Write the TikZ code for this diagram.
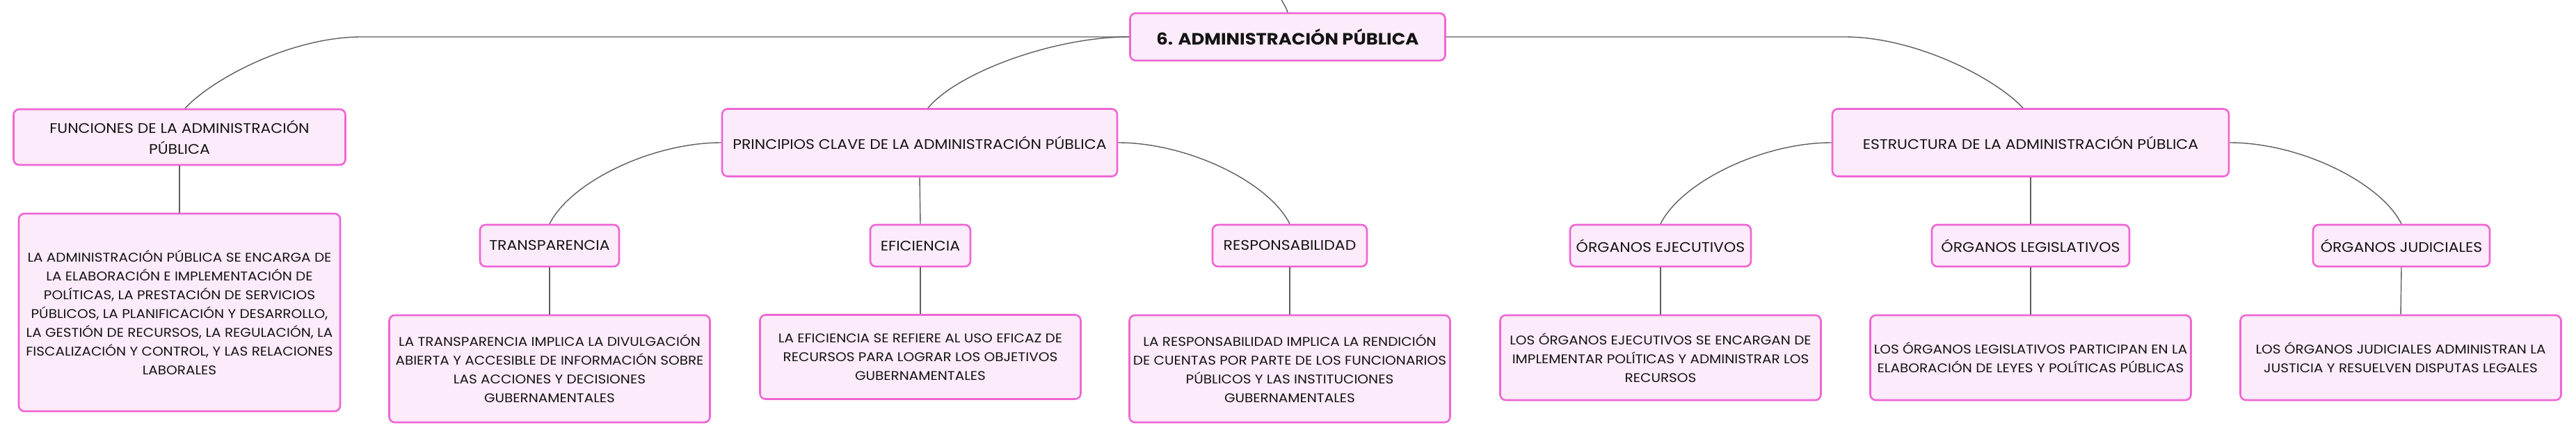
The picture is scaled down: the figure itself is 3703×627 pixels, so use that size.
\documentclass[tikz,border=0pt]{standalone}
\usepackage{fontspec}
\setmainfont{Poppins}[FakeStretch=1.1]

\definecolor{boxline}{HTML}{EE66D4}
\definecolor{boxfill}{HTML}{FCEBFA}
\definecolor{linkgray}{HTML}{5E5E5E}

\tikzset{
  box/.style={draw=boxline, fill=boxfill, line width=2.6pt, rounded corners=8pt,
    inner sep=0pt, align=center, text=black!92},
  mainbox/.style={box, font=\fontsize{23.5}{28}\selectfont\bfseries,
    minimum width=453pt, minimum height=68pt},
  topicbox/.style={box, font=\fontsize{20}{30}\selectfont, minimum height=97pt},
  subbox/.style={box, font=\fontsize{20}{24}\selectfont, minimum height=60pt},
  notebox/.style={box, font=\fontsize{18.2}{27}\selectfont, minimum width=461pt},
  link/.style={draw=linkgray, line width=1.4pt}
}

\begin{document}
\begin{tikzpicture}[x=1pt,y=-1pt]
\useasboundingbox (0,0) rectangle (3703,627);

\node[mainbox] (root) at (1851,53) {6. ADMINISTRACIÓN PÚBLICA};
\coordinate (up) at (1836,-12);
\coordinate (bendL) at (520,53);
\coordinate (bendR) at (2652,53);

% first level
\node[topicbox, minimum width=477pt, minimum height=80pt] (fun) at (258,197)
  {FUNCIONES DE LA ADMINISTRACIÓN\\PÚBLICA};
\node[topicbox, minimum width=568pt] (prin) at (1322,205)
  {PRINCIPIOS CLAVE DE LA ADMINISTRACIÓN PÚBLICA};
\node[topicbox, minimum width=570pt] (estr) at (2919,205)
  {ESTRUCTURA DE LA ADMINISTRACIÓN PÚBLICA};

% second level
\node[subbox, minimum width=200pt] (trans) at (790,353) {TRANSPARENCIA};
\node[subbox, minimum width=144pt] (efic) at (1323,353) {EFICIENCIA};
\node[subbox, minimum width=222pt] (resp) at (1854,353) {RESPONSABILIDAD};
\node[subbox, minimum width=260pt] (ejec) at (2387,353) {ÓRGANOS EJECUTIVOS};
\node[subbox, minimum width=284pt] (legi) at (2919,353) {ÓRGANOS LEGISLATIVOS};
\node[subbox, minimum width=254pt] (judi) at (3452,353) {ÓRGANOS JUDICIALES};

% notes
\node[notebox, minimum width=462pt, minimum height=284pt] (funN) at (258,449)
  {LA ADMINISTRACIÓN PÚBLICA SE ENCARGA DE\\LA ELABORACIÓN E IMPLEMENTACIÓN DE\\POLÍTICAS, LA PRESTACIÓN DE SERVICIOS\\PÚBLICOS, LA PLANIFICACIÓN Y DESARROLLO,\\LA GESTIÓN DE RECURSOS, LA REGULACIÓN, LA\\FISCALIZACIÓN Y CONTROL, Y LAS RELACIONES\\LABORALES};
\node[notebox, minimum height=154pt] (transN) at (790,530)
  {LA TRANSPARENCIA IMPLICA LA DIVULGACIÓN\\ABIERTA Y ACCESIBLE DE INFORMACIÓN SOBRE\\LAS ACCIONES Y DECISIONES\\GUBERNAMENTALES};
\node[notebox, minimum height=121pt] (eficN) at (1323,513)
  {LA EFICIENCIA SE REFIERE AL USO EFICAZ DE\\RECURSOS PARA LOGRAR LOS OBJETIVOS\\GUBERNAMENTALES};
\node[notebox, minimum height=154pt] (respN) at (1854,530)
  {LA RESPONSABILIDAD IMPLICA LA RENDICIÓN\\DE CUENTAS POR PARTE DE LOS FUNCIONARIOS\\PÚBLICOS Y LAS INSTITUCIONES\\GUBERNAMENTALES};
\node[notebox, minimum height=122pt] (ejecN) at (2387,514)
  {LOS ÓRGANOS EJECUTIVOS SE ENCARGAN DE\\IMPLEMENTAR POLÍTICAS Y ADMINISTRAR LOS\\RECURSOS};
\node[notebox, minimum height=122pt] (legiN) at (2919,514)
  {LOS ÓRGANOS LEGISLATIVOS PARTICIPAN EN LA\\ELABORACIÓN DE LEYES Y POLÍTICAS PÚBLICAS};
\node[notebox, minimum height=122pt] (judiN) at (3451,514)
  {LOS ÓRGANOS JUDICIALES ADMINISTRAN LA\\JUSTICIA Y RESUELVEN DISPUTAS LEGALES};

% links from the root
\draw[link] (root.north) .. controls +(-2,-8) and +(4,10) .. (up);
\draw[link] (root.west) -- (bendL) .. controls +(-100,0) and +(41,-44) .. ([xshift=8pt]fun.north);
\draw[link] (root.west) .. controls +(-110,0) and +(41,-50) .. ([xshift=12pt]prin.north);
\draw[link] (root.east) -- (bendR) .. controls +(100,0) and +(-41,-44) .. ([xshift=-11pt]estr.north);

% links to second level
\draw[link] (prin.west) .. controls +(-100,0) and +(30,-60) .. (trans.north);
\draw[link] (prin.south) -- (efic.north);
\draw[link] (prin.east) .. controls +(100,0) and +(-30,-60) .. (resp.north);
\draw[link] (estr.west) .. controls +(-100,0) and +(30,-60) .. (ejec.north);
\draw[link] (estr.south) -- (legi.north);
\draw[link] (estr.east) .. controls +(100,0) and +(-30,-60) .. (judi.north);

% links to notes
\draw[link] (fun.south) -- (funN.north);
\draw[link] (trans.south) -- (transN.north);
\draw[link] (efic.south) -- (eficN.north);
\draw[link] (resp.south) -- (respN.north);
\draw[link] (ejec.south) -- (ejecN.north);
\draw[link] (legi.south) -- (legiN.north);
\draw[link] (judi.south) -- (judiN.north);

\end{tikzpicture}
\end{document}
